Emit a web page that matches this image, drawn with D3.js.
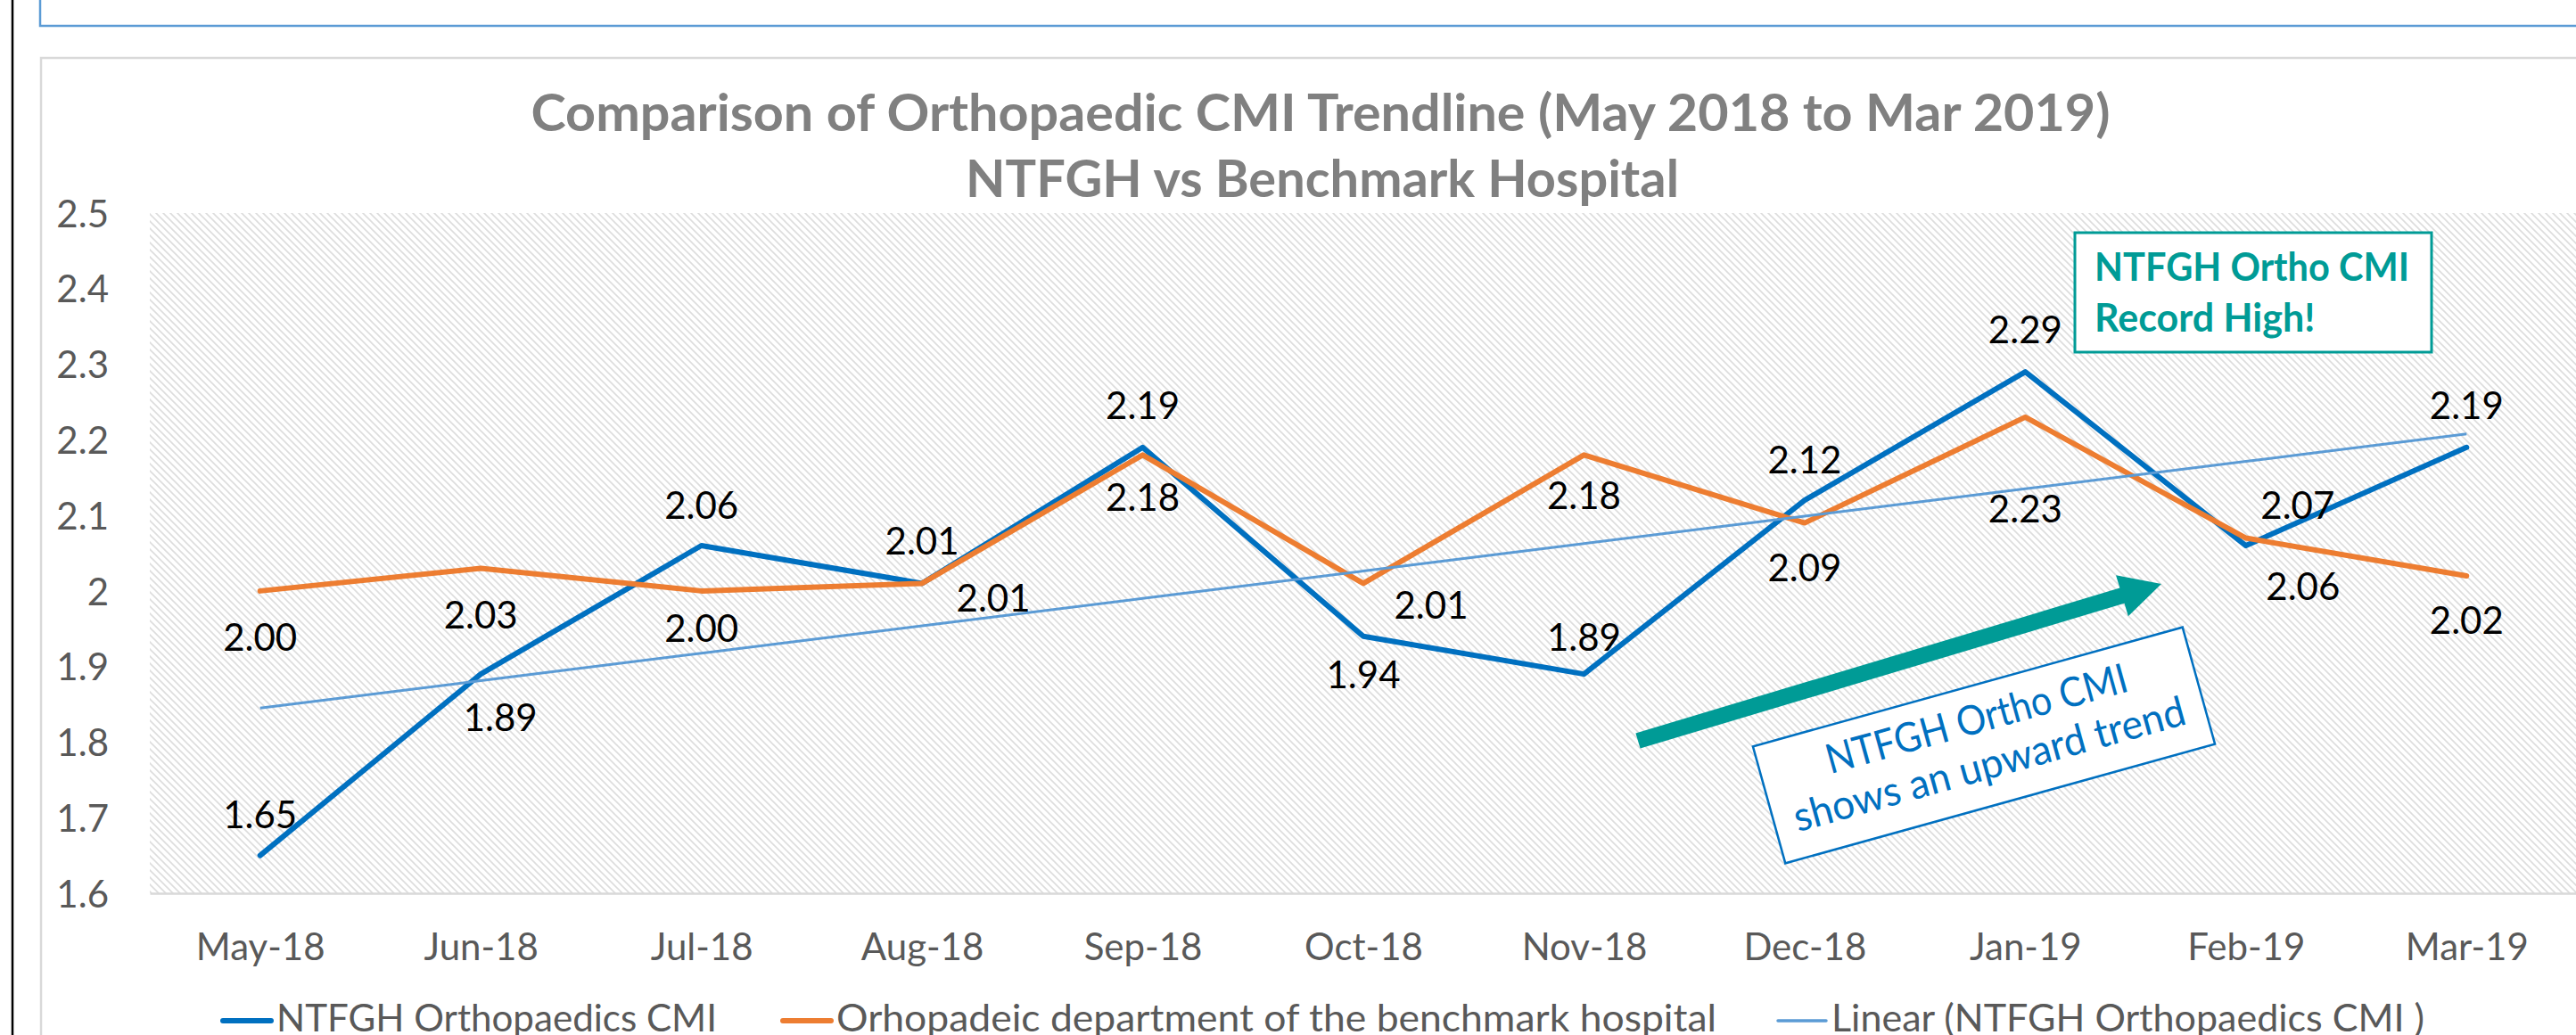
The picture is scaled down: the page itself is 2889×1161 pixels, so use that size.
<!DOCTYPE html>
<html>
<head>
<meta charset="utf-8">
<script src="https://cdn.jsdelivr.net/npm/d3@7/dist/d3.min.js"></script>
<style>
  body { margin: 0; background: #fff; }
  svg { display: block; font-family: Lato, "Open Sans", sans-serif; }
</style>
</head>
<body>
<div id="chart"></div>
<script>
// chart data
const months = ["May-18", "Jun-18", "Jul-18", "Aug-18", "Sep-18", "Oct-18",
                "Nov-18", "Dec-18", "Jan-19", "Feb-19", "Mar-19"];
const ntfghCMI = [1.65, 1.89, 2.06, 2.01, 2.19, 1.94, 1.89, 2.12, 2.29, 2.06, 2.19];
const benchmarkCMI = [2.00, 2.03, 2.00, 2.01, 2.18, 2.01, 2.18, 2.09, 2.23, 2.07, 2.02];
const yTicks = [1.6, 1.7, 1.8, 1.9, 2.0, 2.1, 2.2, 2.3, 2.4, 2.5];
const seriesNames = ["NTFGH Orthopaedics CMI",
                     "Orhopadeic department of the benchmark hospital",
                     "Linear (NTFGH Orthopaedics CMI )"];
const titleLines = ["Comparison of Orthopaedic CMI Trendline (May 2018 to Mar 2019)",
                    "NTFGH vs Benchmark Hospital"];

// where each data label sits relative to its point [dx, dy]
const ntfghLabelOffset = [[0,-46],[22,49],[0,-45],[0,-48],[0,-47],[0,43],
                          [0,-41],[0,-45],[0,-47],[64,46],[0,-47]];
const benchLabelOffset = [[0,52],[0,52],[0,42],[80,16],[0,48],[76,24],
                          [0,46],[0,50],[0,103],[58,-37],[0,50]];

const width = 2889, height = 1161;
const plot = { left: 168, right: 2890, top: 239, bottom: 1002 };

const blue = "#0070c0", orange = "#ed7d31", trendBlue = "#5b9bd5", teal = "#009b96";
const axisGrey = "#595959";

const svg = d3.select("#chart")
  .append("svg")
  .attr("width", width)
  .attr("height", height);

// hatch pattern for the plot area
const defs = svg.append("defs");
const pat = defs.append("pattern")
  .attr("id", "hatch")
  .attr("patternUnits", "userSpaceOnUse")
  .attr("width", 8)
  .attr("height", 8);
pat.append("rect").attr("width", 8).attr("height", 8).attr("fill", "#fff");
pat.append("path")
  .attr("d", "M-2,-2 L10,10 M-2,6 L2,10 M6,-2 L10,2")
  .attr("stroke", "#dddddd")
  .attr("stroke-width", 1.6);

// page furniture: left rule, text box above, chart frame
svg.append("line")
  .attr("x1", 14).attr("x2", 14).attr("y1", 0).attr("y2", height)
  .attr("stroke", "#000").attr("stroke-width", 2.5);
svg.append("path")
  .attr("d", `M45,0 V29 H${width + 5}`)
  .attr("fill", "none").attr("stroke", trendBlue).attr("stroke-width", 2.5);
svg.append("path")
  .attr("d", `M46,${height + 5} V65 H${width + 5}`)
  .attr("fill", "none").attr("stroke", "#d9d9d9").attr("stroke-width", 2.5);

// plot area
svg.append("rect")
  .attr("x", plot.left).attr("y", plot.top)
  .attr("width", plot.right - plot.left)
  .attr("height", plot.bottom - plot.top)
  .attr("fill", "url(#hatch)");

// scales
const xScale = d3.scalePoint()
  .domain(months)
  .range([plot.left, plot.right])
  .padding(0.5);

const yScale = d3.scaleLinear()
  .domain([1.6, 2.5])
  .range([plot.bottom, plot.top]);

// title
svg.append("text")
  .attr("x", 1481).attr("y", 147)
  .attr("text-anchor", "middle")
  .attr("font-size", 58).attr("font-weight", "bold")
  .attr("fill", "#808080")
  .attr("textLength", 1771).attr("lengthAdjust", "spacingAndGlyphs")
  .text(titleLines[0]);
svg.append("text")
  .attr("x", 1483).attr("y", 221)
  .attr("text-anchor", "middle")
  .attr("font-size", 58).attr("font-weight", "bold")
  .attr("fill", "#808080")
  .attr("textLength", 800).attr("lengthAdjust", "spacingAndGlyphs")
  .text(titleLines[1]);

// y axis
const yAxis = svg.append("g")
  .attr("transform", `translate(${plot.left},0)`)
  .call(d3.axisLeft(yScale).tickValues(yTicks).tickSize(0).tickPadding(46)
          .tickFormat(d => String(+d.toFixed(1))));
yAxis.select(".domain").remove();
yAxis.selectAll("text")
  .attr("font-size", 42).attr("font-family", "Lato, sans-serif")
  .attr("fill", axisGrey).attr("dy", "0.36em");

// x axis
const xAxis = svg.append("g")
  .attr("transform", `translate(0,${plot.bottom})`)
  .call(d3.axisBottom(xScale).tickSize(0));
xAxis.select(".domain").attr("stroke", "#d9d9d9").attr("stroke-width", 2.5);
xAxis.selectAll("text")
  .attr("y", 75).attr("dy", 0)
  .attr("font-size", 42).attr("font-family", "Lato, sans-serif")
  .attr("fill", axisGrey);

// series lines
const line = d3.line()
  .x((d, i) => xScale(months[i]))
  .y(d => yScale(d));

svg.append("path")
  .datum(ntfghCMI)
  .attr("d", line)
  .attr("fill", "none").attr("stroke", blue).attr("stroke-width", 6)
  .attr("stroke-linejoin", "round").attr("stroke-linecap", "round");

svg.append("path")
  .datum(benchmarkCMI)
  .attr("d", line)
  .attr("fill", "none").attr("stroke", orange).attr("stroke-width", 6)
  .attr("stroke-linejoin", "round").attr("stroke-linecap", "round");

// linear trendline (least squares on the NTFGH series)
const xs = ntfghCMI.map((d, i) => i);
const mx = d3.mean(xs), my = d3.mean(ntfghCMI);
const slope = d3.sum(xs, (x, i) => (x - mx) * (ntfghCMI[i] - my)) /
              d3.sum(xs, x => (x - mx) * (x - mx));
const intercept = my - slope * mx;
const trend = xs.map(x => intercept + slope * x);

svg.append("path")
  .datum(trend)
  .attr("d", line)
  .attr("fill", "none").attr("stroke", trendBlue).attr("stroke-width", 3);

// data labels
function addLabels(values, offsets) {
  svg.append("g")
    .selectAll("text")
    .data(values)
    .enter()
    .append("text")
      .attr("x", (d, i) => xScale(months[i]) + offsets[i][0])
      .attr("y", (d, i) => yScale(d) + offsets[i][1])
      .attr("dy", "0.36em")
      .attr("text-anchor", "middle")
      .attr("font-size", 42)
      .attr("fill", "#000")
      .text(d => d.toFixed(2));
}
addLabels(ntfghCMI, ntfghLabelOffset);
addLabels(benchmarkCMI, benchLabelOffset);

// teal arrow
const ax0 = 1837, ay0 = 831, ax1 = 2424, ay1 = 655;
const aLen = Math.hypot(ax1 - ax0, ay1 - ay0);
const aAng = Math.atan2(ay1 - ay0, ax1 - ax0) * 180 / Math.PI;
svg.append("polygon")
  .attr("transform", `translate(${ax0},${ay0}) rotate(${aAng})`)
  .attr("points", [[0,-9],[aLen-46,-9],[aLen-46,-24],[aLen,0],
                   [aLen-46,24],[aLen-46,9],[0,9]].join(" "))
  .attr("fill", teal);

// rotated note
const note = svg.append("g")
  .attr("transform", "translate(2225,836) rotate(-15.5)");
note.append("rect")
  .attr("x", -250).attr("y", -68).attr("width", 500).attr("height", 136)
  .attr("fill", "#fff").attr("stroke", blue).attr("stroke-width", 2.5);
note.append("text")
  .attr("x", 0).attr("y", -15).attr("text-anchor", "middle")
  .attr("font-size", 46).attr("fill", blue)
  .attr("textLength", 349).attr("lengthAdjust", "spacingAndGlyphs")
  .text("NTFGH Ortho CMI");
note.append("text")
  .attr("x", 0).attr("y", 38).attr("text-anchor", "middle")
  .attr("font-size", 46).attr("fill", blue)
  .attr("textLength", 454).attr("lengthAdjust", "spacingAndGlyphs")
  .text("shows an upward trend");

// record high box
svg.append("rect")
  .attr("x", 2327).attr("y", 261).attr("width", 400).attr("height", 134)
  .attr("fill", "#fff").attr("stroke", teal).attr("stroke-width", 3);
svg.append("text")
  .attr("x", 2349).attr("y", 315)
  .attr("font-size", 43).attr("font-weight", "bold").attr("fill", teal)
  .attr("textLength", 353).attr("lengthAdjust", "spacingAndGlyphs")
  .text("NTFGH Ortho CMI");
svg.append("text")
  .attr("x", 2349).attr("y", 372)
  .attr("font-size", 43).attr("font-weight", "bold").attr("fill", teal)
  .text("Record High!");

// legend
const legendItems = [
  { name: seriesNames[0], color: blue, w: 6, x: 250, tw: 494 },
  { name: seriesNames[1], color: orange, w: 6, x: 878, tw: 987 },
  { name: seriesNames[2], color: trendBlue, w: 3.5, x: 1994, tw: 665 }
];
const legend = svg.append("g");
legendItems.forEach(it => {
  legend.append("line")
    .attr("x1", it.x).attr("x2", it.x + 54)
    .attr("y1", 1145).attr("y2", 1145)
    .attr("stroke", it.color).attr("stroke-width", it.w)
    .attr("stroke-linecap", "round");
  legend.append("text")
    .attr("x", it.x + 60).attr("y", 1157)
    .attr("font-size", 42).attr("fill", axisGrey)
    .attr("textLength", it.tw).attr("lengthAdjust", "spacingAndGlyphs")
    .text(it.name);
});
</script>
</body>
</html>
